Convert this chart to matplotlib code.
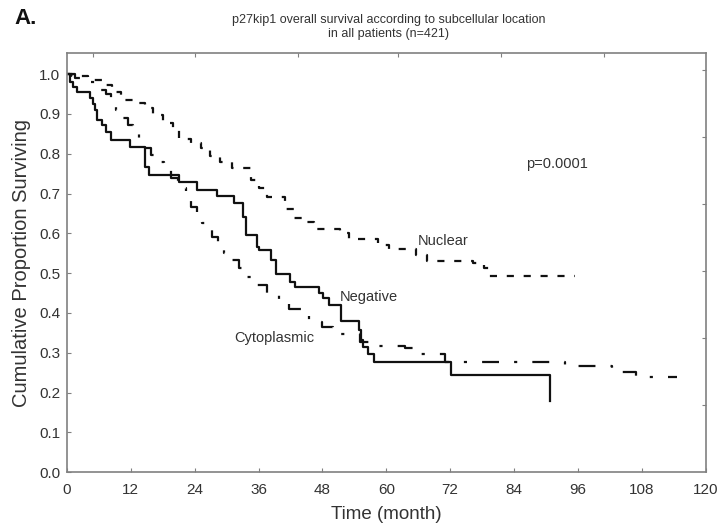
import matplotlib
matplotlib.use("Agg")
import matplotlib.pyplot as plt

plt.rcParams['font.family'] = ['Liberation Sans', 'DejaVu Sans']

# Kaplan-Meier steps: (month, survival after the step)
neg_t = [0, 0.6, 1.2, 1.8, 4.3, 4.9, 5.2, 5.6, 6.5, 7.4, 8.3, 11.8, 14.6, 15.5,
         21.1, 24.4, 28.2, 31.4, 33.0, 33.6, 35.7, 36.0, 38.3, 39.2, 42.0, 42.9,
         47.4, 48.2, 49.2, 51.4, 54.9, 55.2, 55.7, 56.6, 57.6, 72.2, 90.8]
neg_s = [1.0, 0.98, 0.968, 0.955, 0.939, 0.926, 0.91, 0.884, 0.872, 0.855, 0.834,
         0.816, 0.767, 0.746, 0.729, 0.709, 0.693, 0.675, 0.64, 0.595, 0.566, 0.558,
         0.533, 0.499, 0.478, 0.466, 0.45, 0.437, 0.42, 0.38, 0.357, 0.332, 0.315,
         0.298, 0.277, 0.244, 0.18]

cyt_t = [0, 1.5, 4.5, 6.0, 7.4, 8.3, 9.3, 10.5, 11.5, 12.5, 13.6, 14.7, 15.8, 17.0,
         18.3, 19.5, 20.8, 22.4, 23.4, 24.4, 25.4, 26.4, 27.3, 28.3, 29.5, 30.8,
         32.3, 33.9, 35.8, 37.6, 39.8, 41.7, 43.9, 45.4, 47.9, 50.0, 55.0, 57.9,
         63.5, 66.0, 71.0, 93.5, 102.5, 107.0, 114.6]
cyt_s = [1.0, 0.99, 0.98, 0.96, 0.95, 0.93, 0.91, 0.89, 0.872, 0.855, 0.838, 0.815,
         0.796, 0.78, 0.767, 0.74, 0.715, 0.69, 0.665, 0.645, 0.625, 0.61, 0.59, 0.57,
         0.55, 0.534, 0.512, 0.49, 0.47, 0.445, 0.425, 0.411, 0.394, 0.378, 0.364,
         0.346, 0.327, 0.317, 0.311, 0.298, 0.277, 0.266, 0.252, 0.238, 0.238]

nuc_t = [0, 1.0, 4.0, 6.5, 8.5, 10.2, 12.7, 14.6, 16.2, 18.0, 19.9, 21.1, 23.3, 25.2,
         26.8, 28.7, 31.1, 34.5, 36.1, 37.6, 41.0, 42.6, 44.8, 46.4, 51.3, 53.0,
         58.5, 60.5, 65.5, 67.7, 76.3, 78.3, 79.3, 95.5]
nuc_s = [1.0, 0.995, 0.985, 0.972, 0.955, 0.935, 0.928, 0.914, 0.897, 0.878, 0.859,
         0.836, 0.826, 0.815, 0.795, 0.779, 0.764, 0.735, 0.715, 0.692, 0.662, 0.639,
         0.629, 0.611, 0.6, 0.586, 0.572, 0.56, 0.545, 0.531, 0.525, 0.512, 0.492,
         0.492]

x_ticks = [0, 12, 24, 36, 48, 60, 72, 84, 96, 108, 120]
y_ticks = [0.0, 0.1, 0.2, 0.3, 0.4, 0.5, 0.6, 0.7, 0.8, 0.9, 1.0]

frame = '#808080'
txt = '#333333'

fig = plt.figure(figsize=(7.2, 5.3), dpi=100)
fig.set_facecolor('white')
ax = fig.add_axes([0.093, 0.109, 0.887, 0.791])

ax.step(neg_t, neg_s, where='post', color='#111111', lw=1.6)
ax.step(cyt_t, cyt_s, where='post', color='#111111', lw=1.6,
        linestyle=(0, (7.6, 6.8, 1.4, 6.8)))
ax.step(nuc_t, nuc_s, where='post', color='#111111', lw=1.6,
        linestyle=(0, (3.2, 4.4)))

ax.set_xlim(0, 120)
ax.set_ylim(0, 1.053)
ax.set_xticks(x_ticks)
ax.set_yticks(y_ticks)
ax.set_yticklabels([f"{v:.1f}" for v in y_ticks])
ax.tick_params(direction='in', length=3, color=frame, labelsize=11, labelcolor=txt)
ax.tick_params(axis='x', pad=8)
ax.tick_params(axis='y', pad=5)
for s in ax.spines.values():
    s.set_color(frame)
    s.set_linewidth(1.2)

# mirrored top / right ticks (own spacing, like the original)
top = ax.twiny()
top.set_xlim(0, 1)
top.set_xticks([0.041, 0.2, 0.361, 0.519, 0.68, 0.841])
top.tick_params(direction='in', length=3, color=frame, labeltop=False)
right = ax.twinx()
right.set_ylim(0, 1)
right.set_yticks([0.16, 0.32, 0.48, 0.64, 0.80, 0.96])
right.tick_params(direction='in', length=3, color=frame, labelright=False)
for a in (top, right):
    for s in a.spines.values():
        s.set_visible(False)

ax.set_xlabel('Time (month)', fontsize=13.5, color=txt, labelpad=6)
ax.set_ylabel('Cumulative Proportion Surviving', fontsize=14.5, color=txt, labelpad=6)

ax.text(92, 0.774, 'p=0.0001', fontsize=10.5, color=txt, ha='center', va='center')
ax.text(66, 0.581, 'Nuclear', fontsize=10.5, color=txt, ha='left', va='center')
ax.text(51.3, 0.44, 'Negative', fontsize=10.5, color=txt, ha='left', va='center')
ax.text(46.4, 0.337, 'Cytoplasmic', fontsize=10.5, color=txt, ha='right', va='center')

fig.text(0.54, 0.963, 'p27kip1 overall survival according to subcellular location',
         fontsize=9, color=txt, ha='center', va='center')
fig.text(0.54, 0.935, 'in all patients (n=421)', fontsize=9, color=txt,
         ha='center', va='center')
fig.text(0.02, 0.966, 'A.', fontsize=16, fontweight='bold', color='#111111',
         ha='left', va='center')

fig.savefig('out.png', dpi=100)
